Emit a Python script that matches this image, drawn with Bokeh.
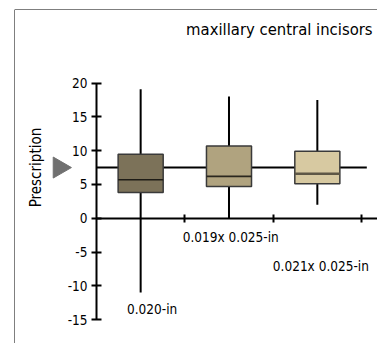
import math
from bokeh.plotting import figure
from bokeh.models import Range1d, LinearAxis, FixedTicker, Span
from bokeh.core.properties import value
from bokeh.embed import file_html
from bokeh.resources import INLINE

# ---- data ----
categories = ["0.020-in", "0.019x 0.025-in", "0.021x 0.025-in"]
whisker_low = [-11.0, 0.0, 2.0]
q1 = [3.8, 4.7, 5.1]
median = [5.7, 6.2, 6.6]
q3 = [9.45, 10.7, 9.9]
whisker_high = [19.1, 18.0, 17.5]
prescription = 7.5
y_ticks = [-15, -10, -5, 0, 5, 10, 15, 20]
y_tick_labels = ["-15", "-10", "-5", "0", "5", "10", "15", "20"]
title_text = "maxillary central incisors"
y_label = "Prescription"

# ---- style / layout ----
box_colors = ["#7c7259", "#b0a37f", "#d7c9a1"]
median_colors = ["#1e1c16", "#2a271e", "#5e5746"]
median_widths = [1.5, 1.8, 2.5]
label_dx = [0.13, 0.02, 0.04]
label_y = [-13.4, -2.8, -7.0]
FONT = "DejaVu Sans Condensed"

centers = [i + 0.5 for i in range(len(categories))]

p = figure(width=377, height=343, output_backend="svg", toolbar_location=None,
           x_range=Range1d(-0.928, 3.181), y_range=Range1d(-18.54, 30.89),
           x_axis_type=None, y_axis_type=None,
           min_border_left=14, min_border_top=9, min_border_right=0, min_border_bottom=0)
p.outline_line_color = None
p.background_fill_color = "white"
p.border_fill_color = "white"

# frame border (left + top)
p.add_layout(Span(location=p.x_range.start, dimension="height", line_color="black", line_width=1))
p.add_layout(Span(location=p.y_range.end, dimension="width", line_color="black", line_width=1))

# axes
yaxis = LinearAxis(fixed_location=0, ticker=FixedTicker(ticks=y_ticks), bounds=(-15, 20))
yaxis.axis_line_width = 2
yaxis.major_tick_line_width = 2
yaxis.major_tick_in = 5
yaxis.major_tick_out = 5
yaxis.minor_tick_line_color = None
yaxis.major_label_standoff = 4
yaxis.major_label_overrides = {t: lab for t, lab in zip(y_ticks, y_tick_labels)}
yaxis.major_label_text_font = FONT
yaxis.major_label_text_font_size = "13.5px"
yaxis.major_label_text_color = "black"
p.add_layout(yaxis, "left")

xaxis = LinearAxis(fixed_location=0, ticker=FixedTicker(ticks=[1, 2, 3]), bounds=(0, 3.181))
xaxis.axis_line_width = 2
xaxis.major_tick_line_width = 2
xaxis.major_tick_in = 4
xaxis.major_tick_out = 4
xaxis.minor_tick_line_color = None
xaxis.major_label_text_font_size = "0px"
xaxis.major_label_text_alpha = 0
p.add_layout(xaxis, "below")

# prescription line
p.segment(x0=[0], y0=[prescription], x1=[len(categories) + 0.06], y1=[prescription],
          line_color="black", line_width=2)

# whiskers
p.segment(x0=centers, y0=whisker_low, x1=centers, y1=whisker_high, line_color="black", line_width=2)

# boxes
p.vbar(x=centers, width=0.51, top=q3, bottom=q1, fill_color=box_colors,
       line_color="#3a3a3a", line_width=1.5)

# medians
p.segment(x0=[c - 0.255 for c in centers], y0=median, x1=[c + 0.255 for c in centers], y1=median,
          line_color=median_colors, line_width=median_widths)

# prescription marker
p.scatter(x=[-0.421], y=[prescription], marker="triangle", size=21, angle=-math.pi / 2,
          fill_color="#707070", line_color="#707070")

# category labels
p.text(x=[c + d for c, d in zip(centers, label_dx)], y=label_y, text=categories,
       text_align="center", text_baseline="middle", text_font=value(FONT),
       text_font_size="13.5px", text_color="black")

# y label
p.text(x=[-0.68], y=[prescription], text=[y_label], angle=math.pi / 2,
       text_align="center", text_baseline="middle", text_font=value(FONT),
       text_font_size="15px", text_color="black")

# title
p.text(x=[3.125], y=[27.93], text=[title_text], text_align="right", text_baseline="middle",
       text_font=value(FONT), text_font_size="16.5px", text_color="black")

open("out.html", "w").write(file_html(p, INLINE))
